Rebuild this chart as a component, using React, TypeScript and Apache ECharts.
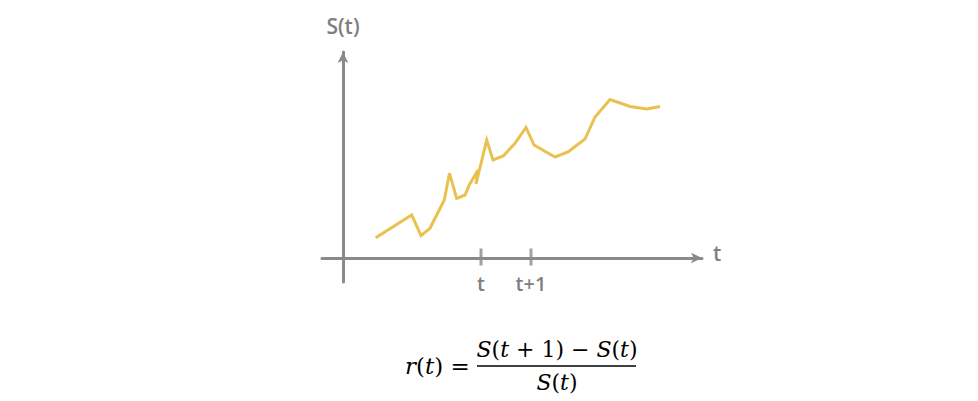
import React, { useEffect, useRef } from "react";
import * as echarts from "echarts";

// time positions (x) and price S(t) (y)
const times = [3.27, 6.87, 7.8, 8.7, 10.13, 10.65, 11.37, 12.2, 12.63, 13.5, 13.3, 14.37, 15.0, 16.03, 17.2, 18.3, 19.1, 21.2, 22.5, 24.2, 25.2, 26.7, 28.7, 30.4, 31.7];
const prices = [2.03, 4.3, 2.23, 2.97, 5.8, 8.47, 5.95, 6.3, 7.3, 8.8, 7.4, 11.8, 9.8, 10.2, 11.47, 13.05, 11.3, 10.1, 10.6, 11.9, 14.1, 15.85, 15.15, 14.9, 15.15];

const tickValues = [13.8, 18.8];
const tickLabels = ["t", "t+1"];

const AXIS = "#8a8a8a";
const TEXT = "#7f7f7f";
const LINE = "#e9c14f";

export default function App() {
  const ref = useRef<HTMLDivElement>(null);
  useEffect(() => {
    if (!ref.current) return;
    const chart = echarts.init(ref.current, undefined, { renderer: "svg" });
    const textFont = "'Open Sans', sans-serif";
    const mathFont = "'DejaVu Serif', serif";
    const rich = {
      i: { fontStyle: "italic", fontFamily: mathFont, fontSize: 22 },
      n: { fontFamily: mathFont, fontSize: 22 },
    };
    chart.setOption({
      animation: false,
      backgroundColor: "#ffffff",
      grid: { left: 322, right: 276, top: 52, bottom: 119, containLabel: false },
      xAxis: {
        type: "value",
        min: -2.1,
        max: 35.9,
        name: "t",
        nameLocation: "end",
        nameGap: 11,
        nameTextStyle: { color: TEXT, fontFamily: textFont, fontSize: 21, fontWeight: 600, verticalAlign: "bottom", lineHeight: 10 },
        axisLine: { onZero: true, symbol: ["none", "arrow"], symbolSize: [8, 11], lineStyle: { color: AXIS, width: 3 } },
        axisTick: { show: false },
        splitLine: { show: false },
        axisLabel: {
          customValues: tickValues,
          formatter: (v: number) => {
            const i = tickValues.findIndex((t) => Math.abs(t - v) < 1e-6);
            return i >= 0 ? tickLabels[i] : "";
          },
          color: TEXT,
          fontFamily: textFont,
          fontSize: 20,
          fontWeight: 600,
          margin: -9,
        },
      },
      yAxis: {
        type: "value",
        min: -2.4,
        max: 20.6,
        name: "S(t)",
        nameLocation: "end",
        nameGap: 16,
        nameTextStyle: { color: TEXT, fontFamily: textFont, fontSize: 21, fontWeight: 600, align: "center" },
        axisLine: { onZero: true, symbol: ["none", "arrow"], symbolSize: [8, 11], lineStyle: { color: AXIS, width: 3 } },
        axisTick: { show: false },
        axisLabel: { show: false },
        splitLine: { show: false },
      },
      series: [
        {
          type: "line",
          data: times.map((t, i) => [t, prices[i]]),
          showSymbol: false,
          symbol: "none",
          lineStyle: { color: LINE, width: 3, join: "miter" },
          z: 3,
        },
        {
          type: "scatter",
          data: tickValues.map((v) => [v, 0]),
          symbol: "rect",
          symbolSize: [3, 17],
          symbolOffset: [0, -1],
          itemStyle: { color: AXIS },
          z: 4,
        },
      ],
      graphic: [
        {
          type: "text",
          x: 405,
          y: 366,
          style: {
            text: "{i|r}{n|(}{i|t}{n|) =}",
            verticalAlign: "middle",
            fontFamily: mathFont,
            fontSize: 22,
            fill: "#000",
            rich: {
              i: { fontStyle: "italic", fontFamily: mathFont, fontSize: 23 },
              n: { fontFamily: mathFont, fontSize: 23 },
            },
          },
        },
        {
          type: "text",
          x: 557,
          y: 349,
          style: {
            text: "{i|S}{n|(}{i|t}{n| + 1) − }{i|S}{n|(}{i|t}{n|)}",
            align: "center",
            verticalAlign: "middle",
            fontFamily: mathFont,
            fontSize: 22,
            fill: "#000",
            rich,
          },
        },
        {
          type: "line",
          shape: { x1: 477, y1: 366, x2: 636, y2: 366 },
          style: { stroke: "#000", lineWidth: 1.5 },
        },
        {
          type: "text",
          x: 557,
          y: 382,
          style: {
            text: "{i|S}{n|(}{i|t}{n|)}",
            align: "center",
            verticalAlign: "middle",
            fontFamily: mathFont,
            fontSize: 22,
            fill: "#000",
            rich,
          },
        },
      ],
    });
    return () => chart.dispose();
  }, []);
  return <div ref={ref} style={{ position: "absolute", left: 0, top: 0, width: 978, height: 401 }} />;
}
